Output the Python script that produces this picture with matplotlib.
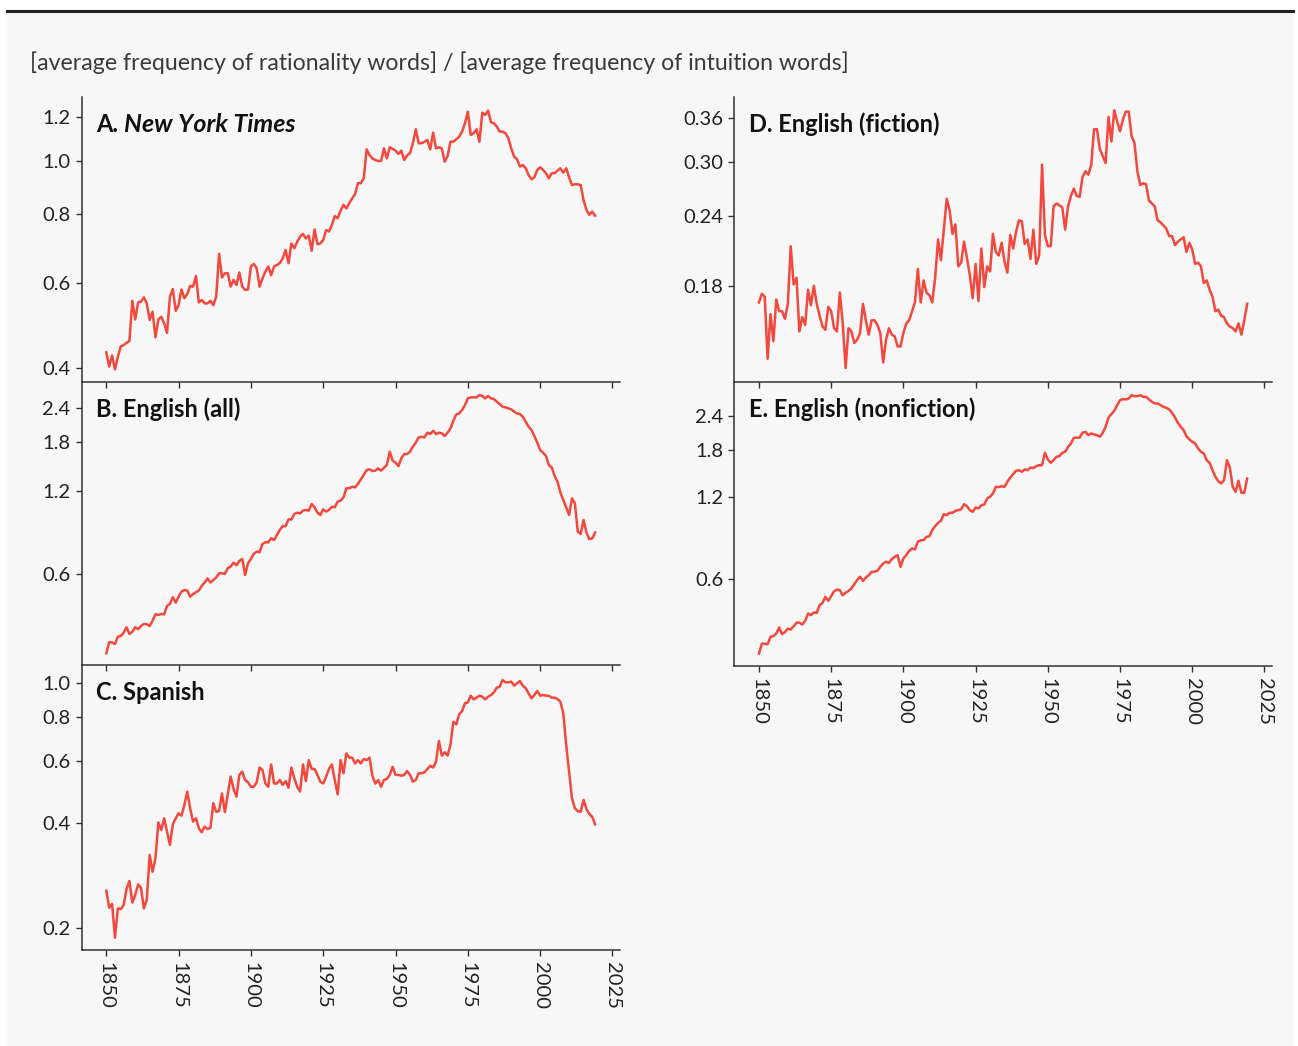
import matplotlib.pyplot as plt
from matplotlib.patches import Rectangle
from matplotlib.lines import Line2D

plt.rcParams['font.family'] = ['Lato', 'DejaVu Sans']

# ratio of rationality-word to intuition-word frequency, one value per year
years = list(range(1850, 2020))

nyt = [0.449, 0.423, 0.443, 0.418, 0.441, 0.460, 0.463, 0.467, 0.471, 0.557,
       0.515, 0.553, 0.555, 0.565, 0.551, 0.514, 0.532, 0.478, 0.515, 0.521,
       0.507, 0.487, 0.567, 0.585, 0.534, 0.547, 0.584, 0.563, 0.573, 0.593,
       0.591, 0.618, 0.553, 0.559, 0.551, 0.551, 0.557, 0.547, 0.567, 0.678,
       0.614, 0.625, 0.625, 0.591, 0.608, 0.595, 0.627, 0.591, 0.583, 0.584,
       0.643, 0.650, 0.638, 0.591, 0.612, 0.629, 0.643, 0.620, 0.643, 0.647,
       0.652, 0.665, 0.689, 0.652, 0.708, 0.694, 0.713, 0.729, 0.737, 0.723,
       0.732, 0.687, 0.751, 0.706, 0.708, 0.718, 0.749, 0.744, 0.765, 0.794,
       0.787, 0.812, 0.832, 0.820, 0.838, 0.855, 0.870, 0.911, 0.911, 0.930,
       1.050, 1.025, 1.011, 1.004, 1.000, 1.000, 1.054, 1.011, 1.059, 1.052,
       1.044, 1.030, 1.044, 1.004, 1.024, 1.033, 1.077, 1.142, 1.077, 1.077,
       1.084, 1.092, 1.050, 1.126, 1.054, 1.059, 1.054, 0.997, 1.021, 1.084,
       1.084, 1.095, 1.107, 1.131, 1.171, 1.229, 1.115, 1.123, 1.142, 1.084,
       1.224, 1.212, 1.235, 1.176, 1.171, 1.155, 1.131, 1.131, 1.123, 1.100,
       1.054, 1.018, 1.007, 0.977, 0.983, 0.970, 0.943, 0.926, 0.934, 0.963,
       0.974, 0.963, 0.950, 0.930, 0.950, 0.950, 0.960, 0.970, 0.952, 0.970,
       0.934, 0.904, 0.907, 0.907, 0.904, 0.849, 0.815, 0.798, 0.809, 0.795]

english_all = [0.311, 0.341, 0.340, 0.336, 0.357, 0.359, 0.369, 0.386, 0.365, 0.372,
               0.386, 0.380, 0.390, 0.397, 0.396, 0.390, 0.408, 0.430, 0.428, 0.431,
               0.430, 0.461, 0.469, 0.496, 0.474, 0.498, 0.519, 0.527, 0.524, 0.498,
               0.508, 0.517, 0.524, 0.545, 0.560, 0.580, 0.560, 0.572, 0.584, 0.605,
               0.605, 0.602, 0.631, 0.640, 0.661, 0.647, 0.670, 0.682, 0.597, 0.658,
               0.682, 0.711, 0.725, 0.721, 0.772, 0.783, 0.782, 0.810, 0.798, 0.832,
               0.868, 0.897, 0.895, 0.948, 0.946, 0.991, 1.002, 0.996, 1.019, 1.025,
               1.019, 1.077, 1.048, 1.002, 0.983, 1.030, 1.011, 1.025, 1.053, 1.048,
               1.098, 1.107, 1.138, 1.227, 1.227, 1.244, 1.237, 1.272, 1.322, 1.371,
               1.429, 1.437, 1.417, 1.421, 1.449, 1.421, 1.457, 1.490, 1.664, 1.544,
               1.519, 1.477, 1.575, 1.632, 1.632, 1.664, 1.735, 1.794, 1.876, 1.883,
               1.876, 1.950, 1.928, 1.982, 1.928, 1.950, 1.939, 1.896, 1.950, 2.021,
               2.154, 2.270, 2.289, 2.354, 2.454, 2.594, 2.616, 2.616, 2.616, 2.667,
               2.645, 2.594, 2.645, 2.594, 2.580, 2.523, 2.474, 2.420, 2.407, 2.386,
               2.367, 2.321, 2.289, 2.277, 2.227, 2.136, 2.049, 1.993, 1.896, 1.794,
               1.688, 1.651, 1.606, 1.490, 1.461, 1.360, 1.297, 1.184, 1.113, 1.048,
               0.983, 1.129, 1.083, 0.856, 0.839, 0.943, 0.849, 0.803, 0.809, 0.849]

spanish = [0.256, 0.229, 0.235, 0.188, 0.228, 0.227, 0.233, 0.259, 0.273, 0.237,
           0.249, 0.267, 0.261, 0.228, 0.241, 0.324, 0.290, 0.317, 0.401, 0.382,
           0.412, 0.377, 0.346, 0.396, 0.412, 0.426, 0.419, 0.450, 0.491, 0.440,
           0.403, 0.412, 0.386, 0.376, 0.390, 0.384, 0.387, 0.455, 0.430, 0.432,
           0.485, 0.429, 0.482, 0.542, 0.500, 0.475, 0.548, 0.560, 0.530, 0.522,
           0.507, 0.507, 0.522, 0.575, 0.566, 0.518, 0.507, 0.587, 0.518, 0.518,
           0.530, 0.513, 0.526, 0.504, 0.575, 0.536, 0.507, 0.491, 0.587, 0.526,
           0.604, 0.570, 0.570, 0.548, 0.524, 0.518, 0.542, 0.570, 0.587, 0.530,
           0.482, 0.604, 0.554, 0.631, 0.614, 0.614, 0.591, 0.604, 0.591, 0.608,
           0.604, 0.614, 0.545, 0.518, 0.530, 0.507, 0.530, 0.534, 0.548, 0.578,
           0.548, 0.548, 0.545, 0.548, 0.562, 0.548, 0.524, 0.530, 0.554, 0.554,
           0.557, 0.570, 0.582, 0.575, 0.598, 0.685, 0.622, 0.636, 0.622, 0.670,
           0.777, 0.764, 0.816, 0.834, 0.877, 0.883, 0.922, 0.900, 0.910, 0.922,
           0.916, 0.900, 0.916, 0.926, 0.943, 0.972, 0.978, 1.022, 1.007, 1.007,
           1.011, 0.985, 1.000, 1.015, 0.985, 0.968, 0.936, 0.906, 0.926, 0.951,
           0.922, 0.926, 0.922, 0.922, 0.910, 0.910, 0.902, 0.886, 0.821, 0.667,
           0.560, 0.470, 0.440, 0.432, 0.430, 0.465, 0.438, 0.424, 0.416, 0.396]

fiction = [0.168, 0.174, 0.172, 0.133, 0.160, 0.143, 0.170, 0.162, 0.162, 0.157,
           0.167, 0.212, 0.181, 0.186, 0.149, 0.158, 0.153, 0.177, 0.166, 0.180,
           0.167, 0.159, 0.152, 0.150, 0.165, 0.162, 0.151, 0.149, 0.175, 0.154,
           0.128, 0.151, 0.149, 0.142, 0.144, 0.148, 0.167, 0.156, 0.147, 0.156,
           0.156, 0.153, 0.148, 0.131, 0.144, 0.151, 0.147, 0.146, 0.140, 0.140,
           0.148, 0.154, 0.156, 0.162, 0.168, 0.193, 0.168, 0.184, 0.175, 0.173,
           0.168, 0.186, 0.218, 0.200, 0.227, 0.258, 0.246, 0.223, 0.232, 0.195,
           0.198, 0.216, 0.202, 0.188, 0.171, 0.197, 0.169, 0.210, 0.179, 0.195,
           0.191, 0.223, 0.207, 0.204, 0.215, 0.199, 0.190, 0.222, 0.210, 0.225,
           0.236, 0.235, 0.214, 0.218, 0.201, 0.227, 0.197, 0.204, 0.297, 0.222,
           0.212, 0.212, 0.250, 0.253, 0.251, 0.249, 0.227, 0.250, 0.261, 0.269,
           0.261, 0.260, 0.282, 0.289, 0.285, 0.296, 0.344, 0.344, 0.317, 0.308,
           0.299, 0.362, 0.327, 0.372, 0.355, 0.341, 0.358, 0.370, 0.370, 0.334,
           0.325, 0.289, 0.273, 0.275, 0.274, 0.256, 0.253, 0.250, 0.236, 0.234,
           0.231, 0.228, 0.221, 0.221, 0.213, 0.216, 0.218, 0.220, 0.207, 0.215,
           0.209, 0.197, 0.198, 0.195, 0.182, 0.184, 0.177, 0.172, 0.162, 0.163,
           0.159, 0.158, 0.154, 0.152, 0.151, 0.149, 0.154, 0.147, 0.156, 0.167]

nonfiction = [0.316, 0.344, 0.344, 0.342, 0.365, 0.367, 0.375, 0.395, 0.373, 0.380,
              0.391, 0.388, 0.399, 0.411, 0.412, 0.405, 0.418, 0.445, 0.439, 0.449,
              0.447, 0.478, 0.487, 0.513, 0.496, 0.516, 0.538, 0.546, 0.543, 0.520,
              0.531, 0.540, 0.551, 0.572, 0.592, 0.609, 0.588, 0.605, 0.617, 0.635,
              0.635, 0.641, 0.663, 0.682, 0.692, 0.686, 0.708, 0.722, 0.732, 0.663,
              0.712, 0.732, 0.760, 0.775, 0.769, 0.821, 0.832, 0.832, 0.856, 0.861,
              0.907, 0.938, 0.965, 0.982, 1.039, 1.030, 1.051, 1.051, 1.069, 1.075,
              1.082, 1.132, 1.113, 1.075, 1.060, 1.100, 1.091, 1.122, 1.129, 1.188,
              1.205, 1.240, 1.313, 1.309, 1.320, 1.313, 1.370, 1.421, 1.463, 1.505,
              1.513, 1.492, 1.522, 1.513, 1.548, 1.540, 1.566, 1.579, 1.579, 1.755,
              1.658, 1.611, 1.648, 1.696, 1.706, 1.755, 1.770, 1.847, 1.900, 1.995,
              1.997, 1.997, 2.082, 2.100, 2.041, 2.070, 2.053, 2.041, 2.012, 2.082,
              2.191, 2.373, 2.441, 2.512, 2.636, 2.751, 2.775, 2.767, 2.791, 2.871,
              2.847, 2.847, 2.871, 2.831, 2.831, 2.767, 2.713, 2.674, 2.674, 2.636,
              2.599, 2.577, 2.541, 2.469, 2.373, 2.267, 2.191, 2.129, 2.023, 1.966,
              1.928, 1.900, 1.821, 1.770, 1.745, 1.648, 1.611, 1.513, 1.430, 1.378,
              1.351, 1.389, 1.648, 1.548, 1.313, 1.258, 1.382, 1.247, 1.247, 1.409]

x_ticks = [1850, 1875, 1900, 1925, 1950, 1975, 2000, 2025]

line_color = '#f2483d'
panel_bg = '#f7f7f7'
ink = '#222222'

W, H = 1298, 1046
fig = plt.figure(figsize=(W / 100, H / 100), dpi=100)
fig.patch.set_facecolor('white')
fig.patches.append(Rectangle((7 / W, 0), (1293 - 7) / W, 1 - 12 / H,
                             transform=fig.transFigure, facecolor=panel_bg,
                             edgecolor='none', zorder=-10))
fig.add_artist(Line2D([7 / W, 1293 / W], [1 - 10.7 / H] * 2,
                      color=ink, lw=2.2))

fig.text(30 / W, 1 - 62.5 / H,
         '[average frequency of rationality words] / [average frequency of intuition words]',
         va='center', ha='left', fontsize=16.7, color='#3a3a3a', fontweight='normal')


def px_rect(left, top, right, bottom):
    return [left / W, 1 - bottom / H, (right - left) / W, (bottom - top) / H]


panels = [
    dict(data=nyt, rect=px_rect(81.7, 97, 620, 381.7), ylim=(0.397, 1.307),
         ticks=[0.42, 0.6, 0.8, 1.0, 1.2], labels=['0.4', '0.6', '0.8', '1.0', '1.2'],
         title=('A.', 'New York Times'), xlabels=False),
    dict(data=english_all, rect=px_rect(81.7, 381.7, 620, 665), ylim=(0.282, 2.98),
         ticks=[0.6, 1.2, 1.8, 2.4], labels=['0.6', '1.2', '1.8', '2.4'],
         title=('B. English (all)', None), xlabels=False),
    dict(data=spanish, rect=px_rect(81.7, 665, 620, 950), ylim=(0.1735, 1.128),
         ticks=[0.2, 0.4, 0.6, 0.8, 1.0], labels=['0.2', '0.4', '0.6', '0.8', '1.0'],
         title=('C. Spanish', None), xlabels=True),
    dict(data=fiction, rect=px_rect(734.4, 97, 1272, 381.7), ylim=(0.121, 0.393),
         ticks=[0.18, 0.24, 0.30, 0.36], labels=['0.18', '0.24', '0.30', '0.36'],
         title=('D. English (fiction)', None), xlabels=False),
    dict(data=nonfiction, rect=px_rect(734.4, 381.7, 1272, 665.7), ylim=(0.285, 3.22),
         ticks=[0.6, 1.2, 1.8, 2.4], labels=['0.6', '1.2', '1.8', '2.4'],
         title=('E. English (nonfiction)', None), xlabels=True),
]

for p in panels:
    ax = fig.add_axes(p['rect'])
    ax.set_facecolor('none')
    ax.plot(years, p['data'], color=line_color, lw=1.8, solid_joinstyle='round')
    ax.set_yscale('log')
    ax.set_ylim(*p['ylim'])
    ax.set_xlim(1841.5, 2027.6)
    ax.minorticks_off()
    ax.set_yticks(p['ticks'])
    ax.set_yticklabels(p['labels'])
    ax.set_xticks(x_ticks)
    if p['xlabels']:
        ax.set_xticklabels([str(t) for t in x_ticks], rotation=270)
    else:
        ax.set_xticklabels([])
    for side in ('top', 'right'):
        ax.spines[side].set_visible(False)
    for side in ('left', 'bottom'):
        ax.spines[side].set_color('#333333')
        ax.spines[side].set_linewidth(1.1)
    ax.tick_params(direction='out', length=4, width=1, color='#333333',
                   labelsize=14.5, labelcolor=ink)
    ax.tick_params(axis='x', pad=5)
    ax.tick_params(axis='y', pad=4)

    head, italic_part = p['title']
    t = ax.text(0.027, 0.945, head, transform=ax.transAxes, va='top', ha='left',
                fontsize=17, fontweight='bold', color='#111111')
    if italic_part:
        ax.annotate(italic_part, xy=(1, 0), xycoords=t, xytext=(4, 0),
                    textcoords='offset points', va='bottom', ha='left',
                    fontsize=18, fontweight='bold', fontstyle='italic',
                    color='#111111')

fig.savefig('out.png', dpi=100, facecolor='white')
